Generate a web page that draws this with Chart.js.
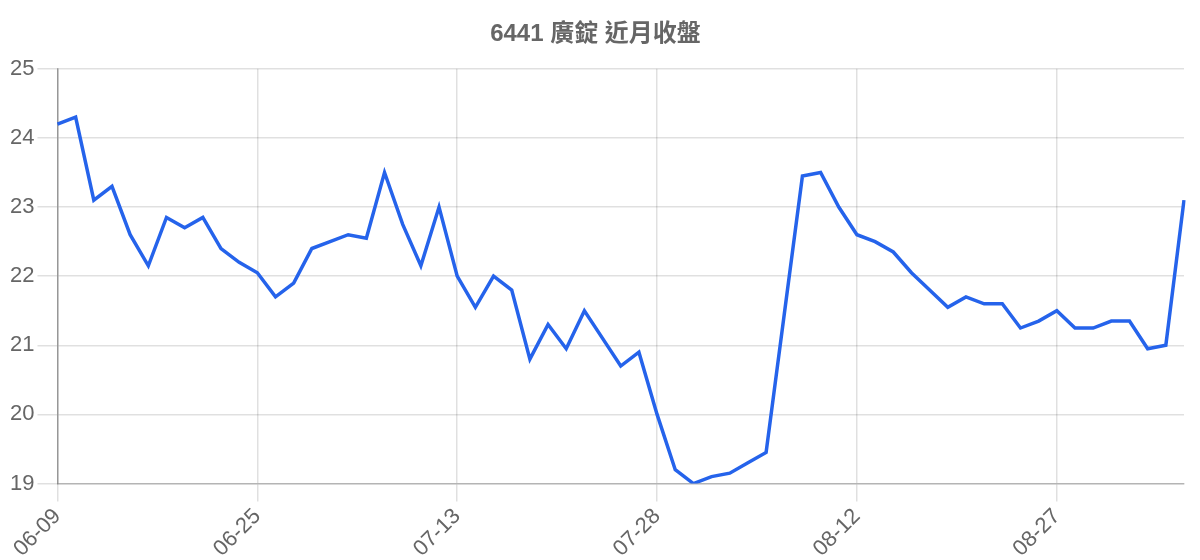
<!DOCTYPE html>
<html>
<head>
<meta charset="utf-8">
<script src="https://cdn.jsdelivr.net/npm/chart.js@4"></script>
<style>
  html, body { margin: 0; padding: 0; background: #fff; }
  #wrap { width: 1200px; height: 560px; }
</style>
</head>
<body>
<div id="wrap"><canvas id="c" width="1200" height="560"></canvas></div>
<script>
const titleText = '6441 廣錠 近月收盤';
const dates = [
  '06-09','06-10','06-11','06-15','06-16','06-17','06-18','06-21','06-22','06-23','06-24',
  '06-25','06-28','06-29','06-30','07-01','07-02','07-05','07-06','07-07','07-08','07-09',
  '07-13','07-14','07-15','07-16','07-19','07-20','07-21','07-22','07-23','07-26','07-27',
  '07-28','07-29','07-30','08-02','08-03','08-04','08-05','08-06','08-09','08-10','08-11',
  '08-12','08-13','08-16','08-17','08-18','08-19','08-20','08-23','08-24','08-25','08-26',
  '08-27','08-30','08-31','09-01','09-02','09-03','09-06','09-07'
];
const closes = [
  24.2, 24.3, 23.1, 23.3, 22.6, 22.15, 22.85, 22.7, 22.85, 22.4, 22.2,
  22.05, 21.7, 21.9, 22.4, 22.5, 22.6, 22.55, 23.5, 22.75, 22.15, 23.0,
  22.0, 21.55, 22.0, 21.8, 20.8, 21.3, 20.95, 21.5, 21.1, 20.7, 20.9,
  20.0, 19.2, 19.0, 19.1, 19.15, 19.3, 19.45, 21.45, 23.45, 23.5, 23.0,
  22.6, 22.5, 22.35, 22.05, 21.8, 21.55, 21.7, 21.6, 21.6, 21.25, 21.35,
  21.5, 21.25, 21.25, 21.35, 21.35, 20.95, 21.0, 23.1
];
const yMin = 19, yMax = 25;

Chart.defaults.font.family = "'Liberation Sans', Arial, 'Noto Sans CJK TC', sans-serif";
Chart.defaults.color = '#666';

new Chart(document.getElementById('c'), {
  type: 'line',
  data: {
    labels: dates,
    datasets: [{
      label: titleText,
      data: closes,
      borderColor: '#2563eb',
      backgroundColor: '#2563eb',
      borderWidth: 3.5,
      pointRadius: 0,
      tension: 0,
      fill: false
    }]
  },
  options: {
    responsive: false,
    animation: false,
    layout: { padding: { top: 10, right: 16, left: 7, bottom: -4 } },
    plugins: {
      legend: { display: false },
      tooltip: { enabled: false },
      title: {
        display: true,
        text: titleText,
        color: '#666',
        font: { size: 24, weight: 'bold', family: "'Liberation Sans', 'Noto Sans CJK TC', sans-serif" },
        padding: { top: 10, bottom: 20 }
      }
    },
    scales: {
      x: {
        grid: { color: 'rgba(0,0,0,0.12)', lineWidth: 1.5, tickLength: 18 },
        border: { color: 'rgba(0,0,0,0.2)', width: 1.5 },
        ticks: {
          autoSkip: true,
          maxTicksLimit: 6,
          minRotation: 45,
          maxRotation: 45,
          font: { size: 22 },
          color: '#666',
          padding: 2
        }
      },
      y: {
        min: yMin,
        max: yMax,
        grid: { color: 'rgba(0,0,0,0.12)', lineWidth: 1.5, tickLength: 20 },
        border: { color: 'rgba(0,0,0,0.33)', width: 1.5 },
        ticks: {
          stepSize: 1,
          font: { size: 22 },
          color: '#666',
          padding: 3
        }
      }
    }
  }
});
</script>
</body>
</html>
